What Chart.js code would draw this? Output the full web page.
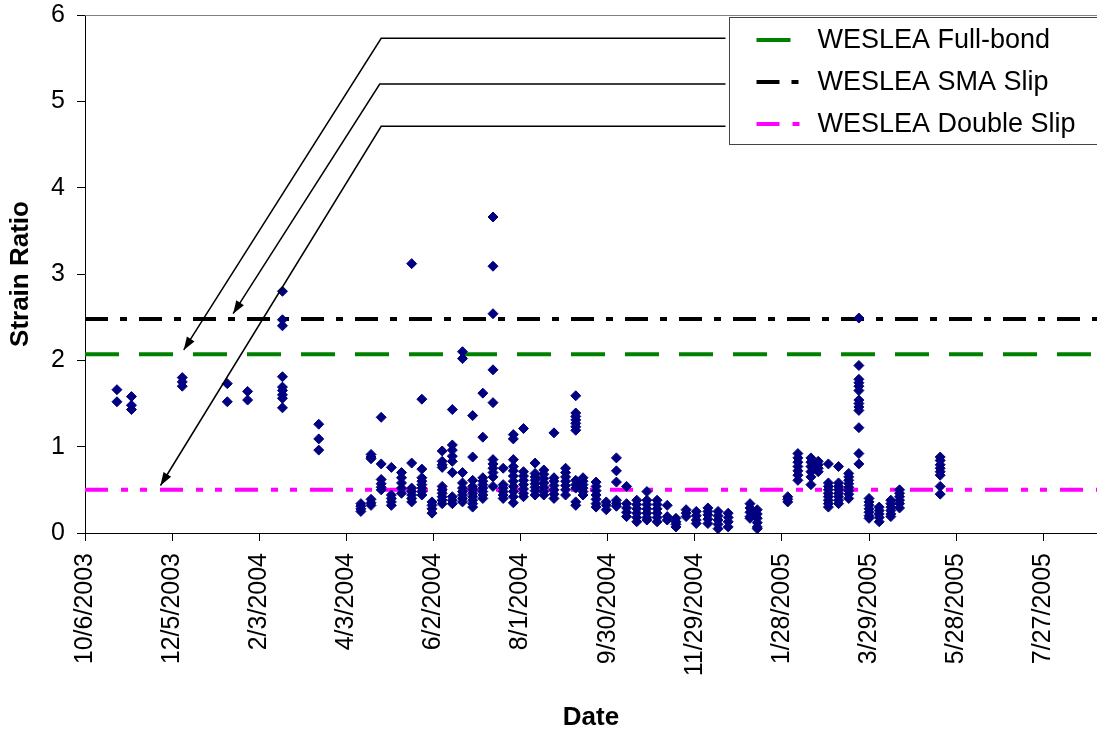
<!DOCTYPE html>
<html>
<head>
<meta charset="utf-8">
<script src="https://cdn.jsdelivr.net/npm/chart.js@4.4.0/dist/chart.umd.min.js"></script>
<style>
  body { margin: 0; background: #fff; }
</style>
</head>
<body>
<canvas id="strainChart" width="1097" height="733"></canvas>
<script>
// measurement dates as Excel day numbers (37900 = 10/6/2003)
const sampleDates = [
  37922, 37932, 37967, 37998, 38012, 38036, 38061, 38090, 38097, 38104,
  38111, 38118, 38125, 38132, 38139, 38146, 38153, 38160, 38167, 38174,
  38181, 38188, 38195, 38202, 38210, 38216, 38223, 38231, 38238, 38243,
  38252, 38259, 38266, 38273, 38280, 38287, 38294, 38301, 38307, 38314,
  38321, 38329, 38336, 38343, 38358, 38363, 38384, 38391, 38400, 38405,
  38412, 38419, 38426, 38433, 38440, 38447, 38455, 38461, 38489
];

// measured strain ratios for each date
const strainRatios = [
  [1.66, 1.52],
  [1.58, 1.48, 1.43],
  [1.80, 1.75, 1.70],
  [1.73, 1.52],
  [1.64, 1.54],
  [2.80, 2.47, 2.40, 1.81, 1.69, 1.65, 1.60, 1.56, 1.45],
  [1.26, 1.09, 0.96],
  [0.34, 0.31, 0.28, 0.25],
  [0.91, 0.88, 0.86, 0.39, 0.35, 0.32],
  [1.34, 0.80, 0.62, 0.57, 0.53, 0.50],
  [0.76, 0.44, 0.40, 0.36, 0.32],
  [0.70, 0.64, 0.58, 0.52, 0.46],
  [3.12, 0.81, 0.52, 0.48, 0.44, 0.40, 0.36],
  [1.55, 0.74, 0.64, 0.60, 0.56, 0.52, 0.48, 0.44],
  [0.36, 0.32, 0.28, 0.23],
  [0.95, 0.83, 0.79, 0.76, 0.54, 0.50, 0.46, 0.42, 0.38, 0.34],
  [1.43, 1.02, 0.96, 0.89, 0.83, 0.70, 0.42, 0.38, 0.34],
  [2.10, 2.02, 0.70, 0.58, 0.52, 0.48, 0.44, 0.40, 0.36],
  [1.36, 0.88, 0.61, 0.54, 0.50, 0.46, 0.42, 0.38, 0.34, 0.30],
  [1.62, 1.11, 0.64, 0.60, 0.56, 0.52, 0.48, 0.44, 0.40],
  [3.66, 3.09, 2.54, 1.89, 1.51, 0.85, 0.80, 0.75, 0.70, 0.65, 0.54],
  [0.75, 0.56, 0.52, 0.48, 0.44, 0.40],
  [1.14, 1.09, 0.85, 0.77, 0.72, 0.66, 0.60, 0.54, 0.48, 0.42, 0.35],
  [1.21, 0.71, 0.66, 0.61, 0.56, 0.51, 0.46, 0.42],
  [0.81, 0.69, 0.65, 0.61, 0.57, 0.53, 0.49, 0.44],
  [0.73, 0.68, 0.63, 0.58, 0.53, 0.48, 0.44],
  [1.16, 0.64, 0.60, 0.55, 0.50, 0.45, 0.40],
  [0.75, 0.70, 0.65, 0.60, 0.55, 0.50, 0.44],
  [1.59, 1.39, 1.35, 1.31, 1.27, 1.23, 1.19, 0.61, 0.56, 0.52, 0.36, 0.32],
  [0.64, 0.60, 0.56, 0.52, 0.48, 0.44],
  [0.59, 0.54, 0.49, 0.44, 0.39, 0.34, 0.30],
  [0.36, 0.32, 0.27],
  [0.87, 0.72, 0.59, 0.38, 0.34, 0.31],
  [0.54, 0.34, 0.29, 0.24, 0.19],
  [0.38, 0.33, 0.28, 0.23, 0.18, 0.13],
  [0.48, 0.38, 0.33, 0.28, 0.23, 0.18, 0.15],
  [0.38, 0.33, 0.28, 0.23, 0.18, 0.13],
  [0.32, 0.19, 0.15],
  [0.17, 0.13, 0.10, 0.07],
  [0.27, 0.23, 0.19],
  [0.25, 0.20, 0.15, 0.11],
  [0.29, 0.25, 0.21, 0.16, 0.11],
  [0.25, 0.20, 0.15, 0.10, 0.05],
  [0.23, 0.18, 0.13, 0.07],
  [0.34, 0.29, 0.24, 0.19, 0.17],
  [0.27, 0.22, 0.17, 0.12, 0.07, 0.05],
  [0.42, 0.39, 0.36],
  [0.92, 0.87, 0.82, 0.77, 0.72, 0.67, 0.61],
  [0.87, 0.82, 0.77, 0.71, 0.65, 0.56],
  [0.83, 0.79, 0.75, 0.71],
  [0.80, 0.58, 0.54, 0.50, 0.46, 0.42, 0.38, 0.34, 0.30],
  [0.77, 0.58, 0.54, 0.50, 0.46, 0.42, 0.38, 0.34],
  [0.69, 0.65, 0.61, 0.57, 0.53, 0.49, 0.45, 0.40],
  [2.49, 1.94, 1.78, 1.74, 1.70, 1.65, 1.54, 1.50, 1.46, 1.42, 1.22, 0.92, 0.80],
  [0.40, 0.36, 0.32, 0.28, 0.24, 0.20, 0.17],
  [0.30, 0.26, 0.22, 0.18, 0.13],
  [0.38, 0.34, 0.30, 0.26, 0.22, 0.19],
  [0.50, 0.46, 0.42, 0.38, 0.34, 0.29],
  [0.88, 0.84, 0.79, 0.75, 0.71, 0.67, 0.54, 0.45]
];

const tickDates = [37900, 37960, 38020, 38080, 38140, 38200, 38260, 38320, 38380, 38440, 38500, 38560];
const tickLabels = ['10/6/2003', '12/5/2003', '2/3/2004', '4/3/2004', '6/2/2004', '8/1/2004',
  '9/30/2004', '11/29/2004', '1/28/2005', '3/29/2005', '5/28/2005', '7/27/2005'];

// WESLEA predictions (horizontal lines)
const seriesNames = ['WESLEA Full-bond', 'WESLEA SMA Slip', 'WESLEA Double Slip'];
const seriesValues = [2.07, 2.48, 0.5];
const seriesColors = ['#008000', '#000000', '#FF00FF'];
const seriesDashes = [[34, 20], [23, 12, 7, 12], [23, 13, 7, 12, 7, 13]];

// arrow bends and tips, in data units (date, ratio)
const arrowBends = [[38104, 5.73], [38103, 5.20], [38104, 4.71]];
const arrowTips = [[37968, 2.12], [38002, 2.54], [37952, 0.55]];

const xMin = 37900, xMax = 38597;
const fontName = '"Liberation Sans", Arial, sans-serif';

let points = [];
sampleDates.forEach((d, i) => {
  strainRatios[i].forEach(v => points.push({ x: d, y: v }));
});

let datasets = [{
  label: 'Measured',
  data: points,
  pointStyle: 'rectRot',
  pointRadius: 5,
  pointBackgroundColor: '#000080',
  pointBorderColor: '#000080',
  pointBorderWidth: 1,
  showLine: false,
  order: 0
}];

seriesNames.forEach((name, i) => {
  datasets.push({
    label: name,
    data: [{ x: xMin, y: seriesValues[i] }, { x: xMax, y: seriesValues[i] }],
    showLine: true,
    borderColor: seriesColors[i],
    borderWidth: 4,
    borderDash: seriesDashes[i],
    borderCapStyle: 'butt',
    pointRadius: 0,
    order: 1
  });
});

// legend box, arrows and top border of the plot area
const extras = {
  id: 'extras',
  afterDatasetsDraw(chart) {
    const { ctx, chartArea, scales: { x, y } } = chart;
    ctx.save();

    ctx.strokeStyle = '#808080';
    ctx.lineWidth = 1;
    ctx.beginPath();
    ctx.moveTo(chartArea.left, chartArea.top + 0.5);
    ctx.lineTo(chartArea.right, chartArea.top + 0.5);
    ctx.stroke();

    const boxLeft = chartArea.right - 367.5;
    const boxTop = chartArea.top + 2.5;
    ctx.fillStyle = '#fff';
    ctx.fillRect(boxLeft, boxTop, 400, 127);
    ctx.strokeStyle = '#444';
    ctx.strokeRect(boxLeft, boxTop, 400, 127);

    ctx.font = '27px ' + fontName;
    ctx.textBaseline = 'middle';
    seriesNames.forEach((name, i) => {
      const rowY = boxTop + 22.5 + i * 42;
      ctx.strokeStyle = seriesColors[i];
      ctx.lineWidth = 4;
      ctx.setLineDash(seriesDashes[i]);
      ctx.beginPath();
      ctx.moveTo(boxLeft + 27, rowY);
      ctx.lineTo(boxLeft + 81, rowY);
      ctx.stroke();
      ctx.setLineDash([]);
      ctx.fillStyle = '#000';
      ctx.fillText(name, boxLeft + 88, rowY + 1);
    });

    ctx.strokeStyle = '#000';
    ctx.fillStyle = '#000';
    ctx.lineWidth = 1.5;
    arrowBends.forEach((b, i) => {
      const bx = x.getPixelForValue(b[0]), by = y.getPixelForValue(b[1]);
      const tx = x.getPixelForValue(arrowTips[i][0]), ty = y.getPixelForValue(arrowTips[i][1]);
      ctx.beginPath();
      ctx.moveTo(boxLeft - 4, by);
      ctx.lineTo(bx, by);
      ctx.lineTo(tx, ty);
      ctx.stroke();
      const ang = Math.atan2(ty - by, tx - bx);
      const len = 13, half = 4.5;
      ctx.beginPath();
      ctx.moveTo(tx, ty);
      ctx.lineTo(tx - len * Math.cos(ang) + half * Math.sin(ang), ty - len * Math.sin(ang) - half * Math.cos(ang));
      ctx.lineTo(tx - len * Math.cos(ang) - half * Math.sin(ang), ty - len * Math.sin(ang) + half * Math.cos(ang));
      ctx.closePath();
      ctx.fill();
    });

    ctx.restore();
  }
};

let ctx = document.getElementById('strainChart').getContext('2d');
let chart = new Chart(ctx, {
  type: 'scatter',
  data: { datasets: datasets },
  plugins: [extras],
  options: {
    responsive: false,
    animation: false,
    layout: { autoPadding: false, padding: { top: 15, right: 0, left: 0, bottom: 0 } },
    plugins: {
      legend: { display: false },
      tooltip: { enabled: false }
    },
    scales: {
      x: {
        type: 'linear',
        min: xMin,
        max: xMax,
        afterBuildTicks: s => { s.ticks = tickDates.map(v => ({ value: v })); },
        afterFit: s => {
          s.height = 200;
          s.paddingLeft = 0;
          s.paddingRight = 0;
        },
        ticks: {
          autoSkip: false,
          maxRotation: 90,
          minRotation: 90,
          padding: 12,
          color: '#000',
          font: { family: fontName, size: 25 },
          callback: (v, i) => tickLabels[i]
        },
        grid: { drawOnChartArea: false, drawTicks: true, tickLength: 8, color: '#000' },
        border: { color: '#000', width: 1 },
        title: {
          display: true,
          text: 'Date',
          color: '#000',
          font: { family: fontName, size: 26, weight: 'bold' },
          padding: { top: 0, bottom: 0 }
        }
      },
      y: {
        min: 0,
        max: 6,
        afterFit: s => {
          s.width = 85;
          s.paddingTop = 0;
          s.paddingBottom = 0;
        },
        ticks: {
          stepSize: 1,
          padding: 12,
          color: '#000',
          font: { family: fontName, size: 25 }
        },
        grid: { drawOnChartArea: false, drawTicks: true, tickLength: 8, color: '#000' },
        border: { color: '#000', width: 1 },
        title: {
          display: true,
          text: 'Strain Ratio',
          color: '#000',
          font: { family: fontName, size: 26, weight: 'bold' },
          padding: { top: 5, bottom: 0 }
        }
      }
    }
  }
});
</script>
</body>
</html>
